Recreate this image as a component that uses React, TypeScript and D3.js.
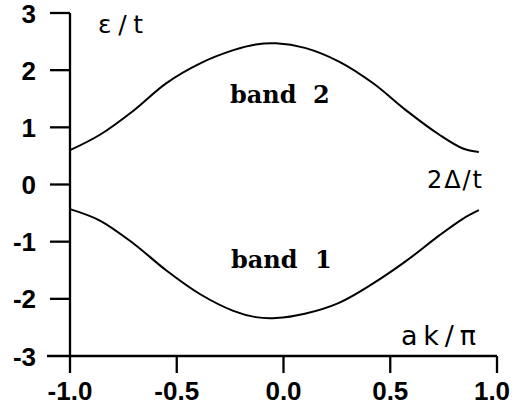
import React from "react";
import * as d3 from "d3";

const kValues = [-1, -0.86, -0.7, -0.55, -0.39, -0.235, -0.13, -0.035, 0.1, 0.26, 0.42, 0.57, 0.73, 0.84, 0.915];
const band2Values = [0.6, 0.87, 1.3, 1.77, 2.12, 2.35, 2.45, 2.47, 2.39, 2.15, 1.77, 1.31, 0.87, 0.63, 0.57];
const band1Values = [-0.43, -0.63, -1.04, -1.5, -1.92, -2.21, -2.32, -2.335, -2.26, -2.07, -1.73, -1.35, -0.89, -0.6, -0.45];
const xTicks = [-1.0, -0.5, 0.0, 0.5, 1.0];
const yTicks = [3, 2, 1, 0, -1, -2, -3];

const W = 512;
const H = 408;

export default function App() {
  const x = d3.scaleLinear().domain([-1, 1]).range([70, 497]);
  const y = d3.scaleLinear().domain([-3, 3]).range([356, 13]);

  const line = d3
    .line<number>()
    .x((_, i) => x(kValues[i]))
    .y((d) => y(d))
    .curve(d3.curveCatmullRom.alpha(0.5));

  const axisW = 2.3;
  const tickLenY = 20;
  const tickLenX = 17;
  const x0 = x(-1);
  const yBottom = y(-3);
  const numFont = "'Liberation Sans', Arial, sans-serif";
  const lblFont = "'DejaVu Sans', sans-serif";
  const bandFont = "'DejaVu Serif', serif";

  return (
    <svg
      width={W}
      height={H}
      style={{ position: "absolute", left: 0, top: 0, background: "#fff" }}
    >
      <rect x={0} y={0} width={W} height={H} fill="#fff" />
      <line x1={x0} x2={x0} y1={y(3)} y2={yBottom + tickLenX} stroke="#000" strokeWidth={axisW} />
      <line x1={x0 - tickLenY - 3} x2={x(1)} y1={yBottom} y2={yBottom} stroke="#000" strokeWidth={axisW} />
      {yTicks.map((t) => (
        <g key={"yt" + t}>
          {t !== -3 && (
            <line x1={x0 - tickLenY} x2={x0} y1={y(t)} y2={y(t)} stroke="#000" strokeWidth={axisW} />
          )}
          <text
            x={36}
            y={y(t) + 9.5}
            textAnchor="end"
            fontFamily={numFont}
            fontWeight="bold"
            fontSize={26}
            fill="#000"
          >
            {String(t)}
          </text>
        </g>
      ))}
      {xTicks.map((t) => (
        <g key={"xt" + t}>
          {t !== -1 && (
            <line x1={x(t)} x2={x(t)} y1={yBottom} y2={yBottom + tickLenX} stroke="#000" strokeWidth={axisW} />
          )}
          <text
            x={Math.min(x(t), 492)}
            y={400}
            textAnchor="middle"
            fontFamily={numFont}
            fontWeight="bold"
            fontSize={26}
            fill="#000"
          >
            {t.toFixed(1)}
          </text>
        </g>
      ))}
      <path d={line(band2Values) || ""} fill="none" stroke="#000" strokeWidth={2} />
      <path d={line(band1Values) || ""} fill="none" stroke="#000" strokeWidth={2} />

      <text x={230} y={103} fontFamily={bandFont} fontWeight="bold" fontSize={24} fill="#000">band</text>
      <text x={313} y={103} fontFamily={bandFont} fontWeight="bold" fontSize={24} fill="#000">2</text>
      <text x={231} y={268} fontFamily={bandFont} fontWeight="bold" fontSize={24} fill="#000">band</text>
      <text x={315} y={268} fontFamily={bandFont} fontWeight="bold" fontSize={24} fill="#000">1</text>

      <text x={98} y={33} fontFamily={lblFont} fontSize={25} fill="#000" textLength={45} lengthAdjust="spacing">ε/t</text>
      <text x={427} y={188} fontFamily={lblFont} fontSize={24} fill="#000" textLength={55} lengthAdjust="spacing">2Δ/t</text>
      <text x={401} y={345} fontFamily={lblFont} fontSize={27} fill="#000" textLength={75} lengthAdjust="spacing">ak/π</text>
    </svg>
  );
}
